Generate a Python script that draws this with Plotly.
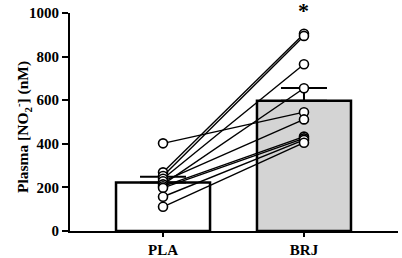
import plotly.graph_objects as go

categories = ["PLA", "BRJ"]
bar_means = [223, 598]
bar_sem = [26, 58]
pla_values = [402, 269, 252, 240, 228, 214, 205, 198, 157, 111]
brj_values = [545, 905, 895, 765, 512, 655, 433, 425, 418, 405]
y_ticks = [0, 200, 400, 600, 800, 1000]

FONT = "Liberation Serif"

fig = go.Figure()
fig.add_trace(go.Bar(
    x=categories, y=bar_means,
    marker=dict(color=["white", "#d4d4d4"], line=dict(color="black", width=2.5)),
    error_y=dict(type="data", array=bar_sem, arrayminus=[0, 0], symmetric=False,
                 color="black", thickness=2, width=23),
    showlegend=False, hoverinfo="skip",
))
for a, b in zip(pla_values, brj_values):
    fig.add_trace(go.Scatter(
        x=categories, y=[a, b], mode="lines+markers",
        line=dict(color="black", width=1.4),
        marker=dict(symbol="circle", size=9, color="white", line=dict(color="black", width=1.6)),
        showlegend=False, cliponaxis=False, hoverinfo="skip",
    ))

fig.add_annotation(x="BRJ", y=1000, yref="y", text="*", showarrow=False,
                   yshift=3, font=dict(family=FONT, size=22, color="black", weight="bold"))
fig.add_annotation(xref="paper", yref="paper", x=(10 - 70) / 328, y=0.477,
                   text="Plasma [NO<sub>2</sub><sup>-</sup>] (nM)", textangle=-90,
                   showarrow=False, font=dict(family=FONT, size=15.5, color="black", weight="bold"))

fig.update_layout(
    width=402, height=258,
    margin=dict(l=70, r=4, t=13, b=27),
    plot_bgcolor="white", paper_bgcolor="white",
    bargap=0.333,
    xaxis=dict(range=[-0.66, 1.667], showline=True, linecolor="black", linewidth=2,
               ticks="outside", ticklen=4, tickwidth=1.5, tickcolor="black",
               showgrid=False, zeroline=False, automargin=False,
               tickfont=dict(family=FONT, size=15, color="black", weight="bold")),
    yaxis=dict(range=[0, 1000], tickvals=y_ticks, showline=True, linecolor="black", linewidth=2,
               ticks="outside", ticklen=6, tickwidth=2, tickcolor="black",
               showgrid=False, zeroline=False, automargin=False,
               tickfont=dict(family=FONT, size=15, color="black", weight="bold")),
)

fig.write_html("out.html", config={"displayModeBar": False},
               post_script="document.body.style.margin='0px';")
